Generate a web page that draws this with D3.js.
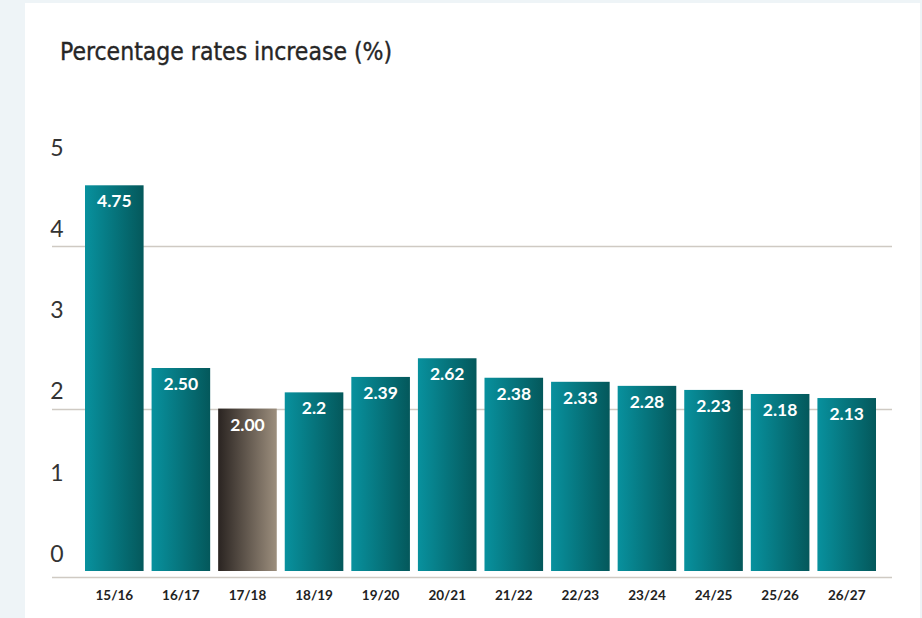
<!DOCTYPE html>
<html>
<head>
<meta charset="utf-8">
<script src="https://cdn.jsdelivr.net/npm/d3@7"></script>
<style>
  html, body { margin: 0; padding: 0; background: #eef4f7; }
  svg { display: block; }
</style>
</head>
<body>
<svg id="chart" width="922" height="618"></svg>
<script>
const categories = ["15/16","16/17","17/18","18/19","19/20","20/21","21/22","22/23","23/24","24/25","25/26","26/27"];
const values = [4.75, 2.50, 2.00, 2.2, 2.39, 2.62, 2.38, 2.33, 2.28, 2.23, 2.18, 2.13];
const labels = ["4.75","2.50","2.00","2.2","2.39","2.62","2.38","2.33","2.28","2.23","2.18","2.13"];
const highlight = ["17/18"];
const yTicks = [0, 1, 2, 3, 4, 5];
const gridValues = [2, 4];
const title = "Percentage rates increase (%)";

const svg = d3.select("#chart");
const W = 922, H = 618;

// white panel
svg.append("rect").attr("x", 25).attr("y", 3).attr("width", 895).attr("height", H - 3).attr("fill", "#ffffff");

const defs = svg.append("defs");
const gTeal = defs.append("linearGradient").attr("id", "teal").attr("x1", "0%").attr("x2", "100%").attr("y1", "0%").attr("y2", "0%");
gTeal.append("stop").attr("offset", "0%").attr("stop-color", "#08919e");
gTeal.append("stop").attr("offset", "100%").attr("stop-color", "#04585b");
const gGray = defs.append("linearGradient").attr("id", "gray").attr("x1", "0%").attr("x2", "100%").attr("y1", "0%").attr("y2", "0%");
gGray.append("stop").attr("offset", "0%").attr("stop-color", "#2a2421");
gGray.append("stop").attr("offset", "100%").attr("stop-color", "#9c8e7d");

const x = d3.scaleBand().domain(categories).range([81, 880]).paddingInner(0.12).paddingOuter(0.06);
const y = d3.scaleLinear().domain([0, 5]).range([571, 165]);

// title
svg.append("text").attr("x", 60).attr("y", 60)
  .attr("font-family", "'DejaVu Sans Condensed', 'Liberation Sans Narrow', sans-serif")
  .attr("font-size", 24.5).attr("fill", "#262626")
  .attr("stroke", "#262626").attr("stroke-width", 0.35).text(title);

// gridlines
svg.append("g").selectAll("line").data(gridValues).join("line")
  .attr("x1", 52).attr("x2", 892)
  .attr("y1", d => Math.round(y(d)) + 0.5).attr("y2", d => Math.round(y(d)) + 0.5)
  .attr("stroke", "#cfcac3").attr("stroke-width", 1.5);

// y tick labels (no axis line)
const yAxis = d3.axisLeft(y).tickValues(yTicks).tickSize(0).tickPadding(0).tickFormat(d3.format("d"));
const yg = svg.append("g").attr("transform", "translate(64,-17)").call(yAxis);
yg.select(".domain").remove();
yg.selectAll("text").attr("font-family", "Lato, sans-serif").attr("font-weight", 400)
  .attr("font-size", 23).attr("fill", "#333").attr("text-anchor", "middle").attr("dx", -7);

// bars
svg.append("g").selectAll("rect").data(categories).join("rect")
  .attr("x", d => x(d)).attr("width", x.bandwidth())
  .attr("y", (d, i) => y(values[i])).attr("height", (d, i) => y(0) - y(values[i]))
  .attr("fill", d => highlight.includes(d) ? "url(#gray)" : "url(#teal)");

// value labels
svg.append("g").selectAll("text").data(categories).join("text")
  .attr("x", d => x(d) + x.bandwidth() / 2)
  .attr("y", (d, i) => y(values[i]) + 22)
  .attr("text-anchor", "middle").attr("font-family", "Lato, sans-serif").attr("font-weight", 700)
  .attr("font-size", 17.5).attr("fill", "#ffffff").text((d, i) => labels[i]);

// baseline
svg.append("line").attr("x1", 52).attr("x2", 892).attr("y1", 577.5).attr("y2", 577.5)
  .attr("stroke", "#cfcac3").attr("stroke-width", 1.5);

// x axis labels
const xAxis = d3.axisBottom(x).tickSize(0).tickPadding(0);
const xg = svg.append("g").attr("transform", "translate(0,590)").call(xAxis);
xg.select(".domain").remove();
xg.selectAll("text").attr("font-family", "Lato, sans-serif").attr("font-weight", 700)
  .attr("font-size", 13.5).attr("fill", "#222");
</script>
</body>
</html>
